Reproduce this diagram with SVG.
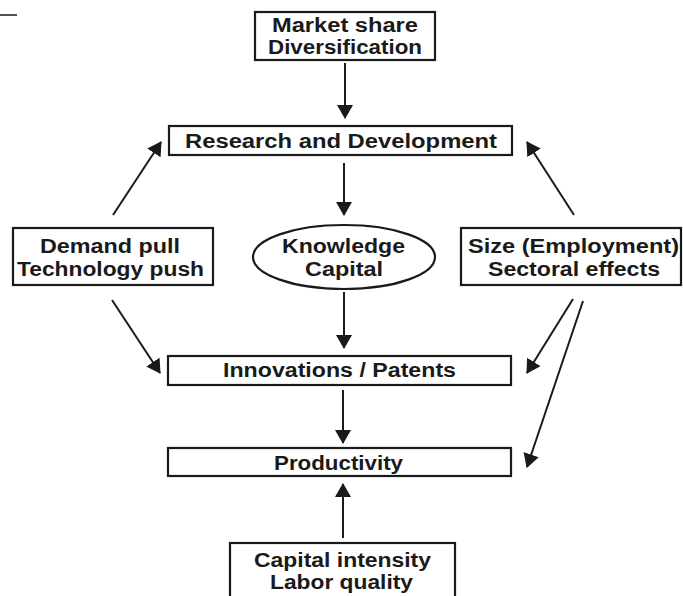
<svg xmlns="http://www.w3.org/2000/svg" width="683" height="596" viewBox="0 0 683 596">
  <style>
    .box { fill: #ffffff; stroke: #1a1a1a; stroke-width: 2.2; }
    .lbl { font-family: "Liberation Sans", Arial, Helvetica, sans-serif; font-weight: bold; font-size: 20px; fill: #1a1a1a; text-anchor: middle; }
    .arrow { stroke: #1a1a1a; stroke-width: 2; fill: none; marker-end: url(#ah); }
  </style>
  <defs>
    <marker id="ah" markerWidth="14" markerHeight="16" refX="13" refY="8" orient="auto" markerUnits="userSpaceOnUse">
      <path d="M0,0 L14,8 L0,16 Z" fill="#1a1a1a"/>
    </marker>
  </defs>
  <rect width="683" height="596" fill="#ffffff"/>
  <line x1="0" y1="15" x2="17" y2="15" stroke="#1a1a1a" stroke-width="1.5"/>

  <g id="connectors">
    <line class="arrow" x1="345" y1="63" x2="345" y2="118"/>
    <line class="arrow" x1="344" y1="163" x2="344" y2="215"/>
    <line class="arrow" x1="344" y1="292" x2="344" y2="348"/>
    <line class="arrow" x1="343" y1="390" x2="343" y2="443"/>
    <line class="arrow" x1="343" y1="538" x2="343" y2="484"/>
    <line class="arrow" x1="113" y1="215" x2="161" y2="142"/>
    <line class="arrow" x1="574" y1="215" x2="527" y2="142"/>
    <line class="arrow" x1="112" y1="300" x2="160" y2="373"/>
    <line class="arrow" x1="573" y1="299" x2="527" y2="373"/>
    <line class="arrow" x1="583" y1="301" x2="527" y2="467"/>
  </g>

  <g id="market">
    <rect class="box" x="255" y="12" width="180" height="48"/>
    <text class="lbl" x="345" y="32" textLength="146" lengthAdjust="spacingAndGlyphs">Market share</text>
    <text class="lbl" x="345" y="54" textLength="154" lengthAdjust="spacingAndGlyphs">Diversification</text>
  </g>

  <g id="rd">
    <rect class="box" x="169" y="126" width="343" height="29"/>
    <text class="lbl" x="341" y="148" textLength="312" lengthAdjust="spacingAndGlyphs">Research and Development</text>
  </g>

  <g id="demand">
    <rect class="box" x="13" y="228" width="200" height="57"/>
    <text class="lbl" x="110" y="253" textLength="140" lengthAdjust="spacingAndGlyphs">Demand pull</text>
    <text class="lbl" x="110.5" y="276" textLength="187" lengthAdjust="spacingAndGlyphs">Technology push</text>
  </g>

  <g id="knowledge">
    <ellipse class="box" cx="344" cy="257" rx="91" ry="32"/>
    <text class="lbl" x="343.5" y="253" textLength="123" lengthAdjust="spacingAndGlyphs">Knowledge</text>
    <text class="lbl" x="344" y="276" textLength="78" lengthAdjust="spacingAndGlyphs">Capital</text>
  </g>

  <g id="size">
    <rect class="box" x="461" y="228" width="220" height="57"/>
    <text class="lbl" x="573.5" y="253" textLength="211" lengthAdjust="spacingAndGlyphs">Size (Employment)</text>
    <text class="lbl" x="574" y="276" textLength="172" lengthAdjust="spacingAndGlyphs">Sectoral effects</text>
  </g>

  <g id="innovations">
    <rect class="box" x="168" y="356" width="343" height="29"/>
    <text class="lbl" x="339.5" y="377" textLength="233" lengthAdjust="spacingAndGlyphs">Innovations / Patents</text>
  </g>

  <g id="productivity">
    <rect class="box" x="168" y="448" width="343" height="28"/>
    <text class="lbl" x="338.5" y="470" textLength="129" lengthAdjust="spacingAndGlyphs">Productivity</text>
  </g>

  <g id="capital">
    <rect class="box" x="230" y="543" width="225" height="60"/>
    <text class="lbl" x="342.5" y="567" textLength="177" lengthAdjust="spacingAndGlyphs">Capital intensity</text>
    <text class="lbl" x="341.5" y="589" textLength="143" lengthAdjust="spacingAndGlyphs">Labor quality</text>
  </g>
</svg>
